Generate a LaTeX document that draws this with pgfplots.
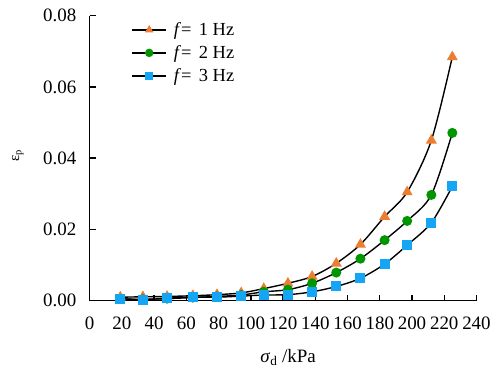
\documentclass[border=0pt]{standalone}
\usepackage{fontspec}
\setmainfont{Liberation Serif}
\usepackage{pgfplots}
\pgfplotsset{compat=1.18}
\definecolor{c1}{RGB}{237,125,49}
\definecolor{c2}{RGB}{0,150,0}
\definecolor{c3}{RGB}{20,165,245}
\begin{document}
\begin{tikzpicture}[font=\fontsize{19}{21}\selectfont]
\begin{axis}[
 scale only axis, width=388pt, height=286pt,
 xmin=0, xmax=240, ymin=0, ymax=0.08,
 xtick={0,20,40,60,80,100,120,140,160,180,200,220,240},
 ytick={0,0.02,0.04,0.06,0.08},
 axis x line*=bottom, axis y line*=left,
 tick align=inside, major tick length=6pt,
 tick style={black, line width=1.4pt},
 axis line style={black, line width=1.4pt},
 /pgf/number format/assume math mode=true,
 yticklabel style={/pgf/number format/fixed,/pgf/number format/fixed zerofill,/pgf/number format/precision=2, xshift=-10pt},
 xticklabel style={yshift=-13pt},
 scaled y ticks=false,
 xlabel={\textit{σ}\textsubscript{d} /kPa},
 xlabel style={at={(axis description cs:0.5,0)}, anchor=center, yshift=-57pt, xshift=5pt},
 ylabel={ε\textsubscript{p}},
 ylabel style={font=\fontsize{15}{17}\selectfont, at={(axis description cs:-0.186,0.51)}, anchor=center},
 legend style={at={(rel axis cs:0.1,0.99)}, anchor=north west, draw=none, fill=none, row sep=4.5pt, font=\fontsize{18.5}{20}\selectfont},
 legend cell align=left,
 legend image code/.code={\draw[line width=1.4pt, mark repeat=2,mark phase=2, mark size=3.5pt] plot coordinates {(0pt,0pt)(17pt,0pt)(34pt,0pt)};},
]
\addplot[black, line width=1.4pt, smooth, mark=triangle*, mark size=5pt, mark options={fill=c1, draw=c1, solid}] coordinates {
(19,0.0010)(33,0.0011)(48,0.0012)(64,0.0014)(79,0.0017)(94,0.0022)(108,0.0034)(123,0.0049)(138,0.0068)(153,0.0105)(168,0.0158)(183,0.0236)(197,0.0305)(212,0.0450)(225,0.0684)};
\addlegendentry{\hspace{5pt}\textit{f}=\hspace{0.4em}1 Hz}
\addplot[black, line width=1.4pt, smooth, mark=*, mark size=4.3pt, mark options={fill=c2, draw=c2, solid}] coordinates {
(19,0.0005)(33,0.0004)(48,0.0006)(64,0.0009)(79,0.0012)(94,0.0016)(108,0.0025)(123,0.0031)(138,0.0049)(153,0.0079)(168,0.0118)(183,0.0170)(197,0.0224)(212,0.0297)(225,0.0471)};
\addlegendentry{\hspace{5pt}\textit{f}=\hspace{0.4em}2 Hz}
\addplot[black, line width=1.4pt, smooth, mark=square*, mark size=4.3pt, mark options={fill=c3, draw=c3, solid}] coordinates {
(19,0.0006)(33,0.0003)(48,0.0007)(64,0.0010)(79,0.0010)(94,0.0013)(108,0.0016)(123,0.0017)(138,0.0025)(153,0.0040)(168,0.0063)(183,0.0103)(197,0.0156)(212,0.0219)(225,0.0321)};
\addlegendentry{\hspace{5pt}\textit{f}=\hspace{0.4em}3 Hz}
\end{axis}
\path (current axis.south west) ++(-90pt,-72.3pt) rectangle ++(494pt,374pt);
\end{tikzpicture}
\end{document}
